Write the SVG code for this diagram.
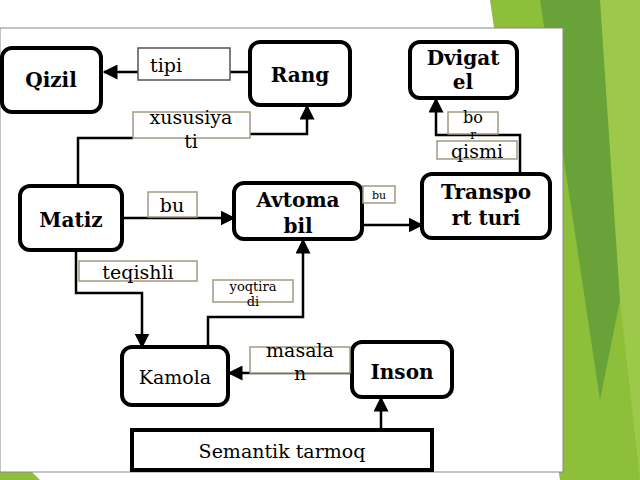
<svg xmlns="http://www.w3.org/2000/svg" width="640" height="480" viewBox="0 0 640 480">
<defs>
<style>
.n{fill:#fff;stroke:#000;stroke-width:4}
.l{fill:#fff;stroke:#a09a80;stroke-width:1.5}
.c{fill:none;stroke:#000;stroke-width:2.5}
text{font-family:"DejaVu Serif","Liberation Serif",serif;text-anchor:middle}
.b{font-weight:bold;font-size:20px}
.t{font-size:19px}
</style>
<marker id="a" viewBox="0 0 10 10" refX="9" refY="5" markerWidth="6" markerHeight="6" orient="auto"><path d="M0,0L10,5L0,10z"/></marker>
</defs>
<rect width="640" height="480" fill="#fff"/>
<polygon points="490,0 640,0 640,480 560,480" fill="#8dbf3a"/>
<polygon points="540,0 600,0 640,200 600,400" fill="#6aa23a"/>
<polygon points="600,0 640,0 640,480 620,300" fill="#9cc94a"/>
<polygon points="0,440 0,480 40,480" fill="#8dbf3a"/>
<rect x="0" y="28" width="563" height="444" fill="#fff" stroke="#888" stroke-width="1"/>
<g id="connectors">
<path class="c" d="M250,72H104" marker-end="url(#a)"/>
<path class="c" d="M78,186V138H133M250,134H307V106" marker-end="url(#a)"/>
<path class="c" d="M520,174V135H436V99" marker-end="url(#a)"/>
<path class="c" d="M122,218H234" marker-end="url(#a)"/>
<path class="c" d="M362,225H422" marker-end="url(#a)"/>
<path class="c" d="M76,250V293H142V347" marker-end="url(#a)"/>
<path class="c" d="M208,347V317H303V240" marker-end="url(#a)"/>
<path class="c" d="M352,373H229" marker-end="url(#a)"/>
<path class="c" d="M381,430V398" marker-end="url(#a)"/>
</g>
<g id="qizil"><rect class="n" x="2" y="48" width="99" height="64" rx="10"/><text class="b" x="51" y="87">Qizil</text></g>
<g id="rang"><rect class="n" x="250" y="42" width="100" height="63" rx="10"/><text class="b" x="300" y="82">Rang</text></g>
<g id="dvigatel"><rect class="n" x="410" y="42" width="107" height="56" rx="10"/><text class="b" x="463" y="65">Dvigat</text><text class="b" x="463" y="89">el</text></g>
<g id="matiz"><rect class="n" x="20" y="186" width="102" height="64" rx="10"/><text class="b" x="71" y="227">Matiz</text></g>
<g id="avtomabil"><rect class="n" x="234" y="183" width="128" height="56" rx="10"/><text class="b" x="298" y="207">Avtoma</text><text class="b" x="298" y="233">bil</text></g>
<g id="transport"><rect class="n" x="422" y="174" width="128" height="64" rx="10"/><text class="b" x="486" y="199" font-size="18">Transpo</text><text class="b" x="486" y="225" font-size="18">rt turi</text></g>
<g id="kamola"><rect class="n" x="122" y="347" width="106" height="58" rx="10"/><text class="t" x="175" y="384">Kamola</text></g>
<g id="inson"><rect class="n" x="352" y="342" width="100" height="55" rx="10"/><text class="b" x="402" y="379">Inson</text></g>
<g id="semantik"><rect x="132" y="430" width="300" height="40" fill="#fff" stroke="#000" stroke-width="4"/><text class="t" x="282" y="458">Semantik tarmoq</text></g>
<g id="labels">
<rect x="138" y="48" width="92" height="32" fill="#fff" stroke="#555" stroke-width="1.5"/><text class="t" x="166" y="72">tipi</text>
<rect class="l" x="133" y="112" width="117" height="26"/><text class="t" x="191" y="124">xususiya</text><text class="t" x="191" y="148">ti</text>
<rect class="l" x="448" y="112" width="50" height="22"/><text x="473" y="123" font-size="16">bo</text><text x="473" y="139" font-size="12">r</text>
<rect class="l" x="437" y="141" width="80" height="18"/><text class="t" x="477" y="158">qismi</text>
<rect class="l" x="148" y="192" width="49" height="25"/><text class="t" x="172" y="212">bu</text>
<rect class="l" x="363" y="186" width="32" height="17"/><text x="379" y="199" font-size="11">bu</text>
<rect class="l" x="79" y="261" width="118" height="20"/><text class="t" x="138" y="279">teqishli</text>
<rect class="l" x="213" y="280" width="80" height="22"/><text x="253" y="291" font-size="13">yoqtira</text><text x="253" y="306" font-size="13">di</text>
<rect class="l" x="250" y="347" width="100" height="26"/><text class="t" x="300" y="357">masala</text><text class="t" x="300" y="380">n</text>
</g>
</svg>
